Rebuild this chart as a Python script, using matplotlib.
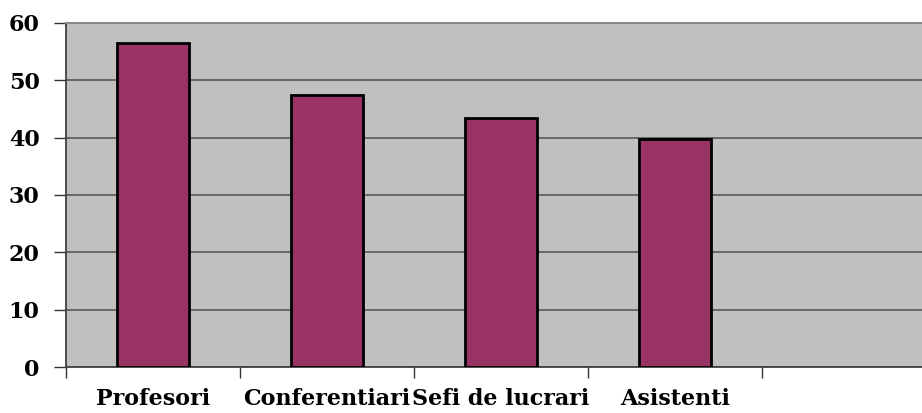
import matplotlib
matplotlib.use("Agg")
import matplotlib.pyplot as plt
import numpy as np

categories = ["Profesori", "Conferentiari", "Sefi de lucrari", "Asistenti"]
values = [56.5, 47.4, 43.5, 39.7]
yticks = [0, 10, 20, 30, 40, 50, 60]

fig = plt.figure(figsize=(9.22, 4.13), dpi=100)
W, H = 922, 413
ax = fig.add_axes([66 / W, (H - 367) / H, 870 / W, (367 - 23) / H])
ax.set_facecolor("#C0C0C0")

x = np.arange(len(categories))
ax.set_axisbelow(True)
ax.yaxis.grid(True, color="#606060", linewidth=1.3)
ax.bar(x, values, width=0.41, color="#993366", edgecolor="black", linewidth=2, zorder=3)

ax.set_xlim(-0.5, 4.5)
ax.set_ylim(0, 60)
ax.set_yticks(yticks)
ax.set_yticklabels([str(v) for v in yticks])

ax.set_xticks(x)
ax.set_xticklabels(categories)
ax.set_xticks(np.arange(-0.5, 5.0, 1.0), minor=True)
ax.tick_params(axis="x", which="major", length=0, pad=15)
ax.tick_params(axis="x", which="minor", length=8, width=1, color="#333333", direction="out")
ax.tick_params(axis="y", which="major", length=9, width=1, color="#333333", pad=10)

for lab in ax.get_xticklabels() + ax.get_yticklabels():
    lab.set_fontfamily("DejaVu Serif")
    lab.set_fontweight("bold")
    lab.set_fontsize(16)

for side in ["left", "bottom"]:
    ax.spines[side].set_color("#404040")
    ax.spines[side].set_linewidth(1.3)
ax.spines["top"].set_color("#888888")
ax.spines["top"].set_linewidth(1.5)
ax.spines["right"].set_visible(False)

fig.savefig("out.png", dpi=100)
